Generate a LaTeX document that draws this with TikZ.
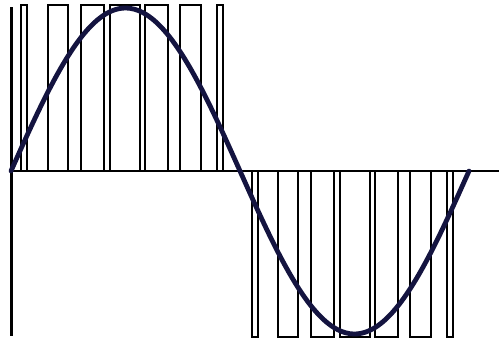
\documentclass[tikz,border=0pt]{standalone}
\begin{document}
\begin{tikzpicture}[x=1pt,y=-1pt,
  pulse/.style={draw=black,line width=1.4pt},
  axisline/.style={draw=black,line width=3pt},
  baseline/.style={draw=black,line width=1.4pt},
  sinewave/.style={draw=sinecol,line width=4.8pt,line cap=round}]
\definecolor{sinecol}{RGB}{20,20,64}
\useasboundingbox[fill=white] (0,0) rectangle (499,338);
% upper pulses
\foreach \a/\b in {21/27,48/68,81/104,110/140,145/168,180/201,217/223}
  \draw[pulse] (\a,171) rectangle (\b,5);
% lower pulses
\foreach \a/\b in {252/258,278/298,311/334,340/370,375/398,410/431,447/453}
  \draw[pulse] (\a,171) rectangle (\b,337);
% baseline and axis
\draw[baseline] (11,171) -- (499,171);
\draw[axisline] (11,7) -- (11,336);
% sine
\draw[sinewave] plot[domain=0:458,samples=120,smooth] ({11+\x},{171-163*sin(\x/458*360)});
\end{tikzpicture}
\end{document}
